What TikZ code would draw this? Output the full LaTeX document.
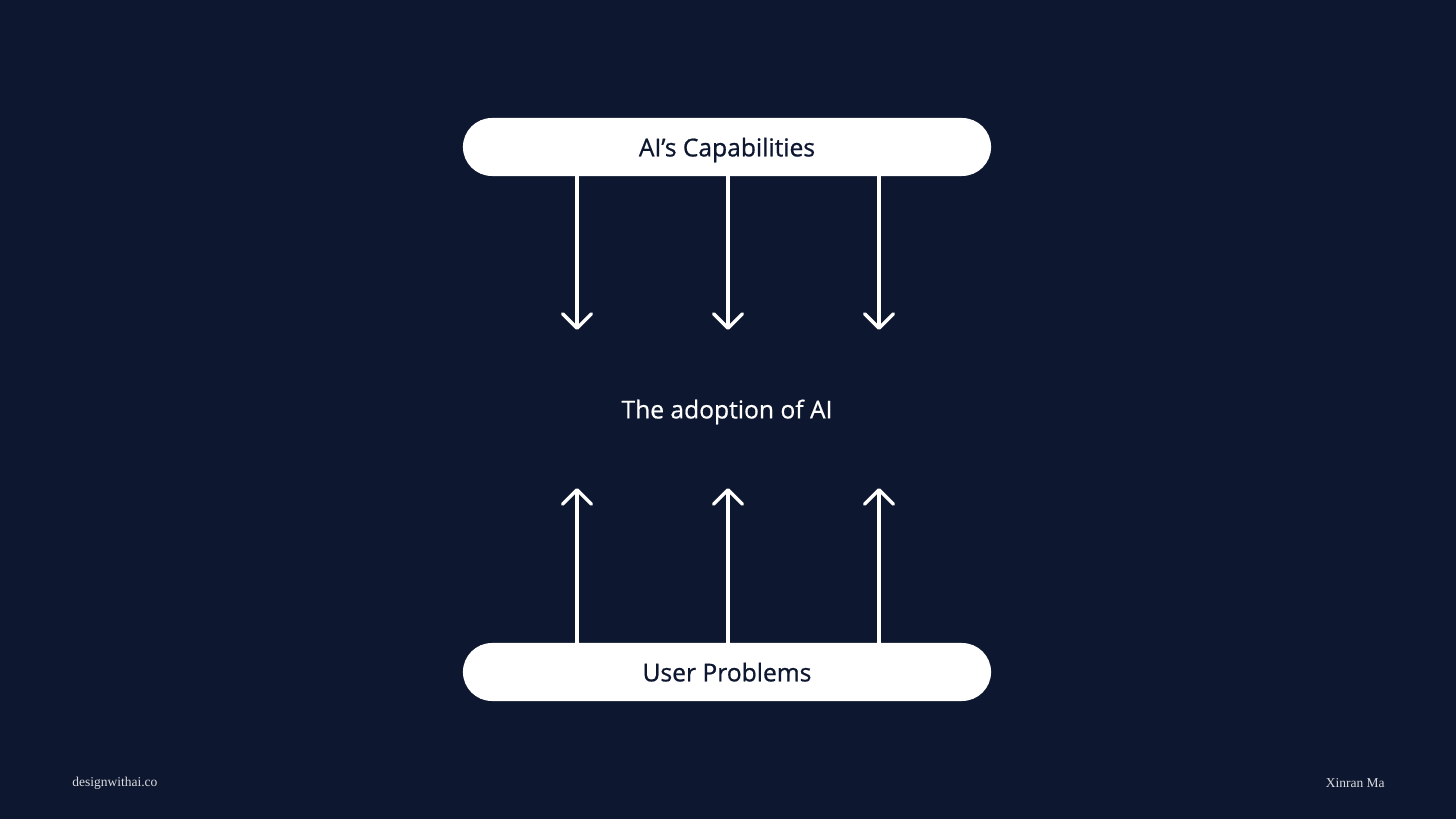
\documentclass[tikz,border=0pt]{standalone}
\usepackage{fontspec}
\setsansfont{Open Sans}
\setmainfont{Liberation Serif}
\usepackage{tikz}
\usetikzlibrary{arrows.meta, positioning, calc}
\definecolor{NightBg}{HTML}{0E1730}
\definecolor{PillInk}{HTML}{0E1730}
\tikzset{
  pill node/.style={rectangle, rounded corners=0.725cm, fill=white,
                    minimum width=13.2cm, minimum height=1.45cm,
                    inner sep=0pt, text depth=0pt, text=PillInk,
                    font=\sffamily\fontsize{17.5}{20}\selectfont\addfontfeature{FakeBold=0.8}},
  core node/.style={text=white, inner sep=0pt, text depth=0pt,
                    font=\sffamily\fontsize{17.5}{20}\selectfont\addfontfeature{FakeBold=0.6}},
  foot node/.style={text=white!85!NightBg, inner sep=0pt,
                    font=\fontsize{9.6}{11}\selectfont},
  flow edge/.style={draw=white, line width=2.5pt,
                    -{Straight Barb[length=3.6mm, width=7.2mm, round]}},
}

\begin{document}
\begin{tikzpicture}[x=0.025cm, y=-0.025cm]
  \fill[NightBg] (0,0) rectangle (1456,819);
  \useasboundingbox (0,0) rectangle (1456,819);
  % main blocks
  \node[core node] (adopt) at (727,409) {The adoption of AI};
  \node[pill node] (cap) at (727,147) {AI’s Capabilities};
  \node[pill node] (prob) at (727,672) {User Problems};
  % arrows in and out
  \foreach \x in {577,728,879} {
    \draw[flow edge] (\x,0 |- cap.south) -- (\x,330);
    \draw[flow edge] (\x,0 |- prob.north) -- (\x,488);
  }
  % footer
  \node[foot node, anchor=west] (site) at (72,783) {designwithai.co};
  \node[foot node, anchor=east] (name) at (1385,783) {Xinran Ma};
\end{tikzpicture}
\end{document}
